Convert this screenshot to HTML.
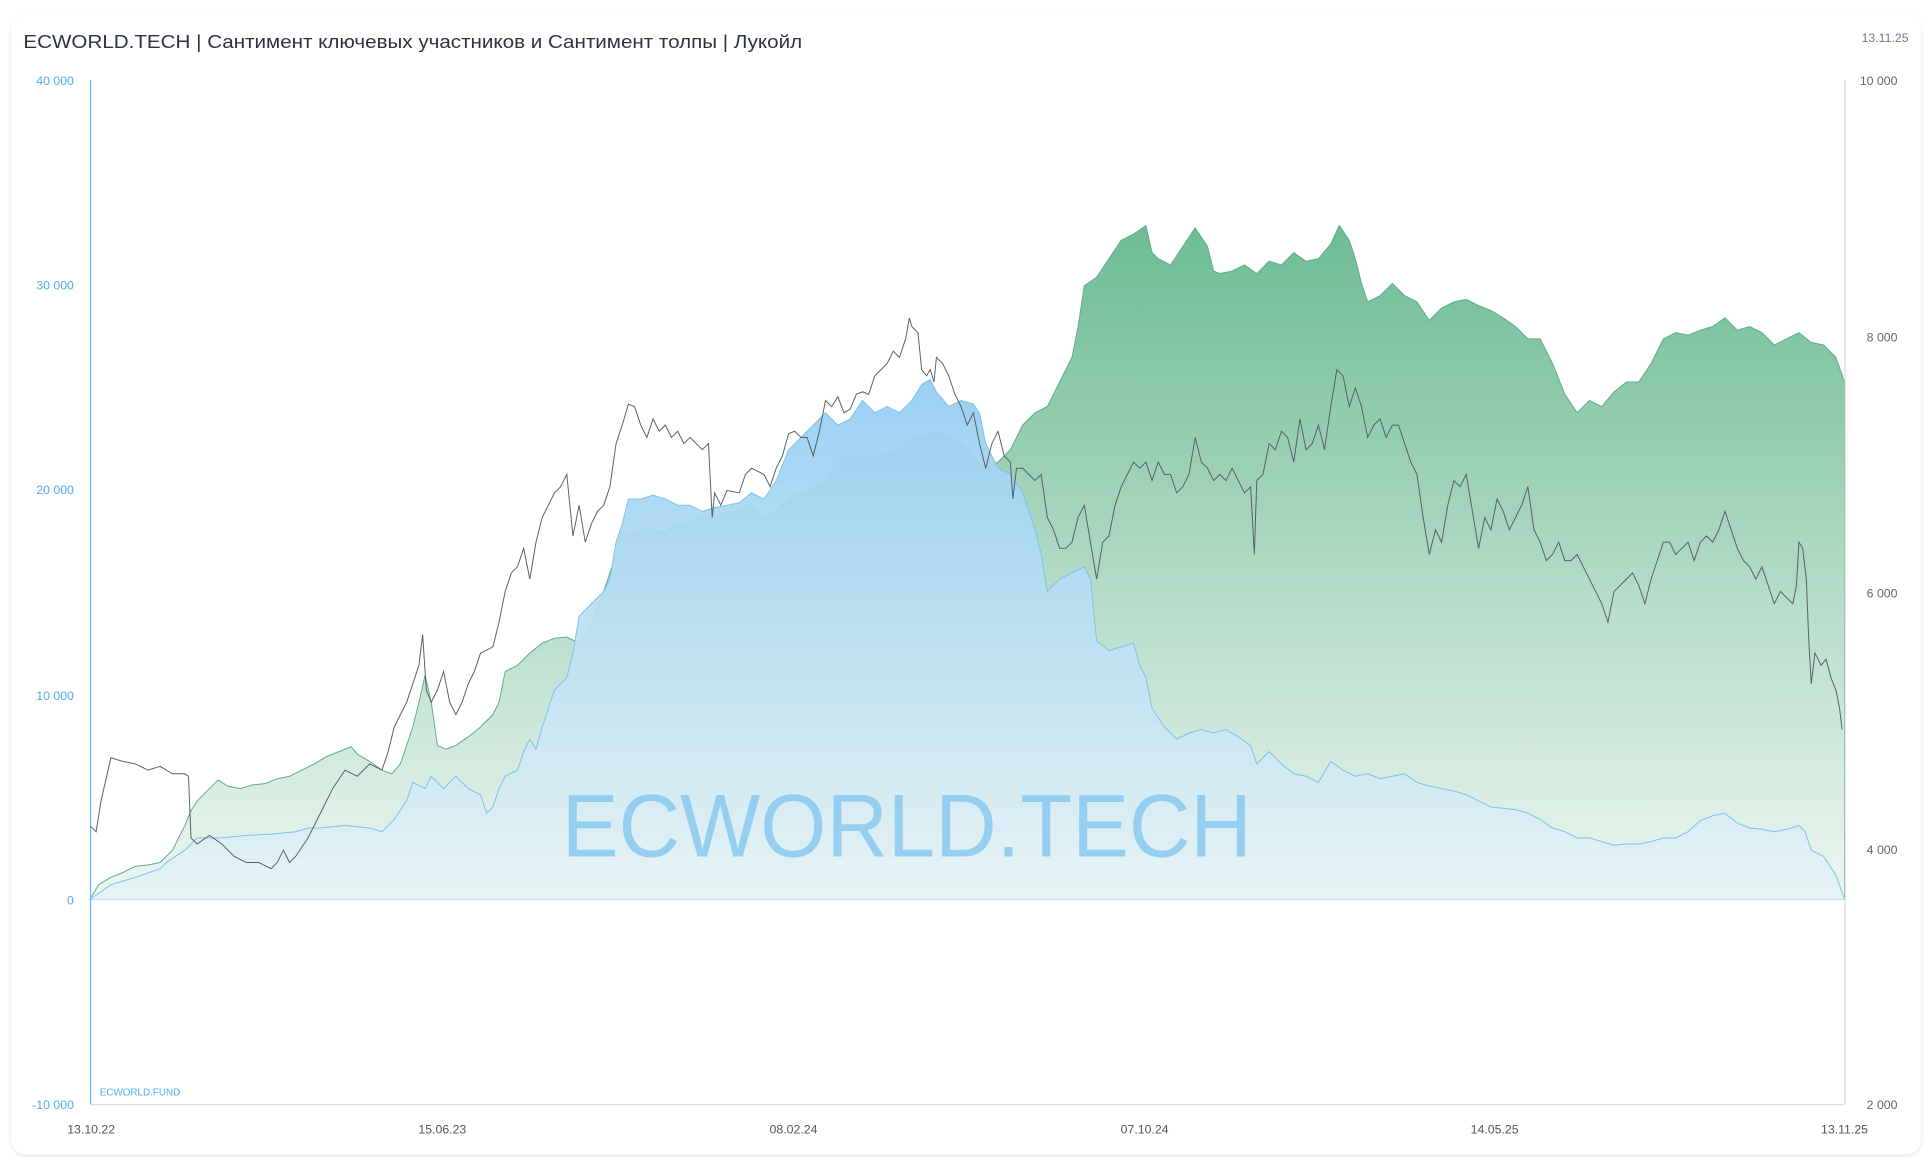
<!DOCTYPE html>
<html><head><meta charset="utf-8"><style>
html,body{margin:0;padding:0;background:#fff;width:1932px;height:1165px;overflow:hidden}
svg{display:block}
text{font-family:"Liberation Sans",sans-serif}
</style></head><body>
<svg width="1932" height="1165" viewBox="0 0 1568 945.5" preserveAspectRatio="none">
<defs>
<linearGradient id="gg" x1="0" y1="180" x2="0" y2="730" gradientUnits="userSpaceOnUse">
<stop offset="0" stop-color="#6cbb93"/><stop offset="1" stop-color="#eef7f2"/></linearGradient>
<linearGradient id="bg" x1="0" y1="300" x2="0" y2="730" gradientUnits="userSpaceOnUse">
<stop offset="0" stop-color="#93cdf2" stop-opacity="0.95"/><stop offset="1" stop-color="#e6f3f5" stop-opacity="0.9"/></linearGradient>
<filter id="sh"><feDropShadow dx="0" dy="1" stdDeviation="1.5" flood-color="#000" flood-opacity="0.12"/></filter>
</defs>
<rect x="9" y="12" width="1550" height="925" rx="12" fill="#fff" filter="url(#sh)"/>
<text x="19" y="39" font-size="15" fill="#2a3442" textLength="632" lengthAdjust="spacingAndGlyphs">ECWORLD.TECH | Сантимент ключевых участников и Сантимент толпы | Лукойл</text>
<text x="1549" y="34" font-size="10" fill="#6b7a8a" text-anchor="end">13.11.25</text>
<g font-size="10" fill="#4ab0e8" text-anchor="end">
<text x="60" y="69">40 000</text><text x="60" y="235">30 000</text><text x="60" y="401">20 000</text><text x="60" y="568">10 000</text><text x="60" y="734">0</text><text x="60" y="900">-10 000</text></g>
<g font-size="10" fill="#666" text-anchor="end">
<text x="1540" y="69">10 000</text><text x="1540" y="277">8 000</text><text x="1540" y="485">6 000</text><text x="1540" y="693">4 000</text><text x="1540" y="900">2 000</text></g>
<g font-size="10" fill="#555" text-anchor="middle">
<text x="74" y="920">13.10.22</text><text x="359" y="920">15.06.23</text><text x="644" y="920">08.02.24</text><text x="929" y="920">07.10.24</text><text x="1213" y="920">14.05.25</text><text x="1497" y="920">13.11.25</text></g>
<polygon fill="url(#gg)" stroke="#5fae88" stroke-width="0.8" points="73,730 80,718 90,712 100,708 110,703 120,702 130,700 135,695 140,690 145,680 150,670 155,658 160,650 170,640 177,633 185,638 195,640 205,637 215,636 225,632 235,630 245,625 255,620 265,614 275,610 285,606 290,612 300,618 310,625 318,628 325,620 330,605 335,590 340,570 345,548 350,570 355,605 362,608 370,605 380,598 390,590 400,580 405,570 410,545 420,540 430,530 440,522 450,518 460,517 470,522 480,505 490,480 500,450 505,430 510,435 520,430 530,430 540,432 550,425 560,425 570,420 580,420 590,415 600,415 610,410 620,420 630,415 640,405 650,400 660,395 670,390 680,375 690,370 700,372 710,370 720,368 730,365 740,355 750,355 760,350 770,355 780,360 790,372 800,380 810,375 815,370 820,365 830,345 840,335 850,330 855,320 860,310 870,290 875,265 880,232 890,225 900,210 910,195 920,190 930,183 935,205 940,210 950,215 960,200 970,185 980,200 985,220 990,222 1000,220 1010,215 1020,222 1030,212 1040,215 1050,205 1060,212 1070,210 1080,198 1087,183 1095,195 1100,210 1105,230 1110,245 1120,240 1130,230 1140,240 1150,245 1160,260 1170,250 1180,245 1190,243 1200,248 1210,252 1220,258 1230,265 1240,275 1250,275 1260,295 1270,320 1280,335 1290,325 1300,330 1310,318 1320,310 1330,310 1340,295 1350,275 1360,270 1370,272 1380,268 1390,265 1400,258 1410,268 1420,265 1430,270 1440,280 1450,275 1460,270 1470,278 1480,280 1490,290 1497,310 1497,730"/>
<polygon fill="url(#bg)" stroke="#7cc3ee" stroke-width="0.8" points="73,730 90,718 110,712 130,705 135,700 150,690 160,680 180,680 200,678 220,677 240,675 250,672 260,672 280,670 300,672 310,675 320,665 330,650 335,635 345,640 350,630 360,640 370,630 380,640 390,645 395,660 400,655 405,640 410,630 420,625 425,610 430,600 435,608 440,590 445,575 450,560 460,550 465,530 470,500 480,490 490,480 495,470 500,440 505,425 510,405 520,405 530,402 540,405 550,410 560,410 570,415 580,412 590,410 600,408 610,400 620,405 630,390 640,365 650,355 660,345 670,335 680,345 690,340 700,325 710,335 720,330 730,335 740,325 748,312 755,308 760,318 770,330 780,325 790,328 795,335 800,360 810,380 820,385 830,400 840,430 845,450 850,480 860,470 870,465 880,460 885,470 890,520 900,528 910,525 920,522 925,540 930,550 935,575 945,590 955,600 965,595 975,592 985,595 995,592 1005,598 1015,605 1020,620 1030,610 1040,620 1050,628 1060,630 1070,635 1080,618 1090,625 1100,630 1110,628 1120,632 1130,630 1140,628 1150,635 1160,638 1170,640 1180,642 1190,645 1200,650 1210,655 1220,656 1230,657 1240,660 1250,665 1260,672 1270,675 1280,680 1290,680 1300,683 1310,686 1320,685 1330,685 1340,683 1350,680 1360,680 1370,675 1380,666 1390,662 1400,660 1410,668 1420,672 1430,673 1440,675 1450,673 1460,670 1465,675 1470,690 1480,695 1490,710 1497,730"/>
<text x="736" y="695" font-size="72" fill="#7cc3f0" fill-opacity="0.75" text-anchor="middle" textLength="560" lengthAdjust="spacingAndGlyphs">ECWORLD.TECH</text>
<line x1="73" y1="730" x2="1497" y2="730" stroke="#bde0ec" stroke-width="1"/>
<line x1="73.5" y1="65" x2="73.5" y2="896" stroke="#6cbbe8" stroke-width="1"/>
<line x1="1497.5" y1="65" x2="1497.5" y2="896" stroke="#dcdcdc" stroke-width="1"/>
<line x1="73" y1="896.5" x2="1497" y2="896.5" stroke="#dcdcdc" stroke-width="1"/>
<text x="81" y="889" font-size="8" fill="#4ab0e8">ECWORLD.FUND</text>
<polyline fill="none" stroke="#5a5f6a" stroke-width="0.8" points="73,670 78,675 82,650 90,615 100,618 110,620 120,625 130,622 140,628 150,628 153,630 155,680 160,685 170,678 180,685 190,695 200,700 210,700 220,705 225,700 230,690 235,700 240,695 250,680 260,660 270,640 280,625 290,630 300,620 310,625 315,610 320,590 325,580 330,570 335,555 340,540 343,515 346,560 350,570 355,560 360,545 365,570 370,580 375,570 380,555 385,545 390,530 400,525 405,505 410,480 415,465 420,460 425,445 430,470 435,440 440,420 445,410 450,400 455,395 460,385 465,435 470,410 475,440 480,425 485,415 490,410 495,395 500,360 505,345 510,328 515,330 520,345 525,355 530,340 535,350 540,345 545,355 550,350 555,360 560,355 565,360 570,365 575,360 578,420 580,400 585,410 590,398 600,400 605,385 610,380 620,385 625,395 630,380 635,370 640,352 645,350 650,355 655,355 660,370 665,350 670,325 675,330 680,322 685,335 690,332 695,320 700,318 705,320 710,305 715,300 720,295 725,285 730,290 735,275 738,258 740,265 745,270 748,300 752,305 755,300 758,310 760,290 765,295 770,305 775,320 780,330 785,345 790,335 795,360 800,380 805,360 810,350 815,370 820,375 822,405 825,380 830,380 835,385 840,390 845,385 850,420 855,430 860,445 865,445 870,440 875,420 880,410 885,440 890,470 895,440 900,435 905,410 910,395 915,385 920,375 925,380 930,375 935,390 940,375 945,385 950,385 955,400 960,395 965,385 970,355 975,375 980,380 985,390 990,385 995,390 1000,380 1005,390 1010,400 1015,395 1018,450 1020,390 1025,385 1030,360 1035,365 1040,350 1045,355 1050,375 1055,340 1060,365 1065,360 1070,345 1075,365 1080,330 1085,300 1090,305 1095,330 1100,315 1105,330 1110,355 1115,345 1120,340 1125,355 1130,345 1135,345 1140,360 1145,375 1150,385 1155,420 1160,450 1165,430 1170,440 1175,410 1180,390 1185,395 1190,385 1195,415 1200,445 1205,420 1210,430 1215,405 1220,415 1225,430 1230,420 1235,410 1240,395 1245,430 1250,440 1255,455 1260,450 1265,440 1270,455 1275,455 1280,450 1285,460 1290,470 1295,480 1300,490 1305,505 1310,480 1315,475 1320,470 1325,465 1330,475 1335,490 1340,470 1345,455 1350,440 1355,440 1360,450 1365,445 1370,440 1375,455 1380,440 1385,435 1390,440 1395,430 1400,415 1405,430 1410,445 1415,455 1420,460 1425,470 1430,460 1435,475 1440,490 1445,480 1450,485 1455,490 1458,475 1460,440 1463,445 1466,470 1468,520 1470,555 1473,530 1478,540 1482,535 1486,550 1490,560 1493,575 1495,592"/>
</svg>
</body></html>
